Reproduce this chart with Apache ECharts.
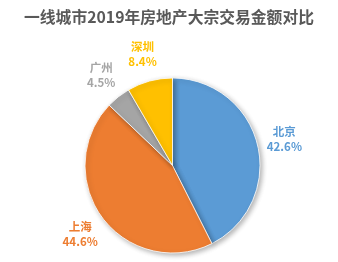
<!DOCTYPE html>
<html><head><meta charset="utf-8">
<script src="https://cdn.jsdelivr.net/npm/echarts@6/dist/echarts.min.js"></script>
<style>html,body{margin:0;padding:0;background:#fff}#c{width:338px;height:262px}</style>
</head><body><div id="c"></div>
<script>
var titleText = '一线城市2019年房地产大宗交易金额对比';
var categories = ['北京', '上海', '广州', '深圳'];
var values = [42.6, 44.6, 4.5, 8.4];
var colors = ['#5B9BD5', '#ED7D31', '#A5A5A5', '#FFC000'];

var chart = echarts.init(document.getElementById('c'), null, {renderer: 'canvas'});
var pieData = categories.map(function (n, i) {
  return {name: n, value: values[i], itemStyle: {color: colors[i]}};
});
var labelData = categories.map(function (n, i) {
  return {name: n, value: values[i], label: {color: colors[i]}};
});
var fontFam = '"Noto Sans CJK SC", "Microsoft YaHei", sans-serif';
chart.setOption({
  backgroundColor: '#fff',
  animation: false,
  title: {
    text: titleText, left: 'center', top: 4,
    textStyle: {fontSize: 15.8, fontWeight: 'bold', color: '#595959', fontFamily: fontFam}
  },
  series: [{
    type: 'pie', center: [172.5, 165.5], radius: [0, 87.5],
    startAngle: 90, clockwise: true, silent: true,
    label: {show: false}, labelLine: {show: false},
    itemStyle: {borderColor: '#fff', borderWidth: 0.8, shadowBlur: 5, shadowOffsetX: 2, shadowOffsetY: 2, shadowColor: 'rgba(0,0,0,0.3)'},
    data: pieData
  }, {
    type: 'pie', center: [172.5, 165.5], radius: [87.5, 136.5],
    startAngle: 90, clockwise: true, silent: true,
    itemStyle: {color: 'rgba(0,0,0,0)'},
    labelLine: {show: false},
    label: {
      show: true, position: 'inside', formatter: '{b}\n{c}%',
      fontSize: 11.5, fontWeight: 'bold', lineHeight: 15, fontFamily: fontFam
    },
    data: labelData
  }]
});
</script></body></html>
